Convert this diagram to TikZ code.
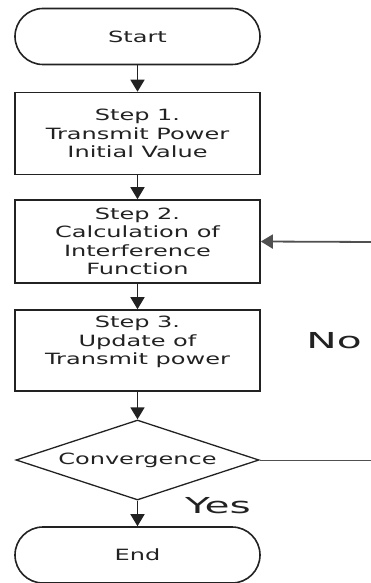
\documentclass[tikz,border=0pt]{standalone}
\usepackage{fontspec}
\setmainfont{DejaVu Sans}[FakeStretch=1.55]
\newfontfamily\labelfont{DejaVu Sans}[FakeStretch=1.85]
\usetikzlibrary{shapes.geometric,arrows.meta}
\definecolor{ink}{HTML}{222222}
\definecolor{loopc}{HTML}{505050}
\begin{document}
\begin{tikzpicture}[x=1pt,y=-1pt,
  box/.style={draw=ink,line width=1.6pt,minimum width=245pt,minimum height=82pt,inner sep=0pt,text=ink,font=\fontsize{15.5}{18.5}\selectfont,align=center},
  term/.style={draw=ink,line width=1.6pt,minimum width=245pt,minimum height=56pt,rounded corners=28pt,inner sep=0pt,text=ink,font=\fontsize{15.5}{18.5}\selectfont},
  decision/.style={draw=ink,line width=1.3pt,diamond,shape aspect=3,minimum width=243pt,minimum height=80pt,inner sep=0pt,text=ink,font=\fontsize{15.5}{18.5}\selectfont},
  flow/.style={draw=ink,line width=1.6pt,-{Triangle[length=12pt,width=14pt]}},
  lbl/.style={text=ink,font=\labelfont\fontsize{22}{24}\selectfont,inner sep=0pt}]
\useasboundingbox (0,0) rectangle (371,583);
\node[term] (start) at (137.5,36.5) {Start};
\node[box] (s1) at (137.5,133.5) {Step 1.\\Transmit Power\\Initial Value};
\node[box,minimum height=83pt] (s2) at (137.5,241.5) {Step 2.\\Calculation of\\Interference\\Function};
\node[box,minimum height=81pt] (s3) at (137.5,350.5) {};
\node[text=ink,font=\fontsize{15.5}{18.5}\selectfont,align=center,inner sep=0pt] (s3t) at (137.5,342) {Step 3.\\Update of\\Transmit power};
\node[decision] (conv) at (137.5,460) {Convergence};
\node[term] (end) at (137.5,555) {End};
\node[lbl] (no) at (334,341) {No};
\node[lbl] (yes) at (218,506) {Yes};
\coordinate (c1) at (374,460);
\coordinate (c2) at (374,242);
\draw[flow] (start) -- (s1);
\draw[flow] (s1) -- (s2);
\draw[flow] (s2) -- (s3);
\draw[flow] (s3) -- (conv);
\draw[flow] (conv) -- (end);
\draw[draw=loopc,line width=1pt] (conv.east) -- (c1) -- (c2);
\draw[flow,draw=loopc,line width=1.8pt] (c2) -- (s2.east);
\end{tikzpicture}
\end{document}
